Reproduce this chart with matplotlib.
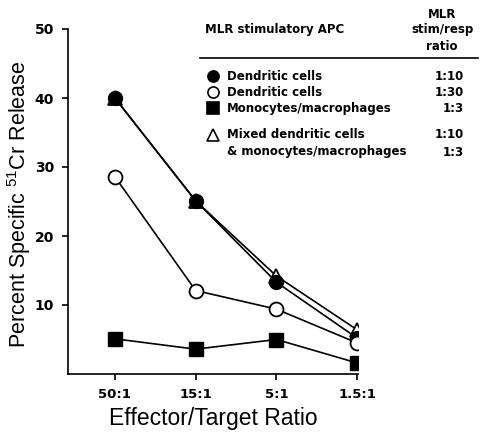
import matplotlib.pyplot as plt

plt.rcParams["mathtext.fontset"] = "custom"
plt.rcParams["mathtext.rm"] = "Liberation Sans"

# E:T ratios and percent specific 51Cr release
ratios = ["50:1", "15:1", "5:1", "1.5:1"]
dc_1_10 = [40.0, 25.1, 13.3, 5.2]
dc_1_30 = [28.6, 12.1, 9.4, 4.5]
mono_1_3 = [5.1, 3.6, 5.0, 1.6]
mixed = [40.0, 25.1, 14.2, 6.4]

legend_names = ["Dendritic cells", "Dendritic cells", "Monocytes/macrophages",
                "Mixed dendritic cells"]
legend_ratios = ["1:10", "1:30", "1:3", "1:10"]

W, H = 480, 436
fig = plt.figure(figsize=(W / 100, H / 100), dpi=100)
ax = fig.add_axes([68 / W, 1 - 374 / H, (358 - 68) / W, (374 - 29) / H])

x = list(range(len(ratios)))
ms = 10
lw = 1.2
ax.plot(x, mixed, color="black", lw=lw, marker="^", ms=ms, mfc="white", mec="black", mew=1.3, zorder=2)
ax.plot(x, dc_1_10, color="black", lw=lw, marker="o", ms=ms, mfc="black", mec="black", zorder=3)
ax.plot(x, dc_1_30, color="black", lw=lw, marker="o", ms=ms, mfc="white", mec="black", mew=1.3, zorder=3)
ax.plot(x, mono_1_3, color="black", lw=lw, marker="s", ms=ms, mfc="black", mec="black", zorder=3)

ax.set_xlim(-0.58, 3.01)
ax.set_ylim(0, 50)
ax.set_xticks(x)
ax.set_xticklabels(ratios, fontsize=9.5, fontweight="bold")
ax.set_yticks([10, 20, 30, 40, 50])
ax.set_yticklabels(["10", "20", "30", "40", "50"], fontsize=10, fontweight="bold")
ax.spines["top"].set_visible(False)
ax.spines["right"].set_visible(False)
ax.spines["left"].set_linewidth(1.2)
ax.spines["bottom"].set_linewidth(1.2)
ax.tick_params(direction="out", length=4, width=1.2, pad=6)


def px(xp, yp):
    return xp / W, 1 - yp / H


# axis labels placed in figure pixels so nothing is clipped
fig.text(*px(213, 418), "Effector/Target Ratio", fontsize=16.5, family="Liberation Sans",
         ha="center", va="center")
fig.text(*px(19, 204), "Percent Specific $^{51}$Cr Release", fontsize=15.5, family="Liberation Sans",
         ha="center", va="center", rotation=90)

# legend drawn as a small table
fig.text(*px(205, 30), "MLR stimulatory APC", fontsize=8.5, fontweight="bold", va="center")
fig.text(*px(442, 30), "MLR\nstim/resp\nratio", fontsize=8.5, fontweight="bold",
         va="center", ha="center", linespacing=1.3)
fig.add_artist(plt.Line2D([200 / W, 478 / W], [1 - 58 / H, 1 - 58 / H], color="black", lw=1.2))

rows_y = [76, 92, 108, 135]
markers = [("o", "black"), ("o", "white"), ("s", "black"), ("^", "white")]
for yp, (m, fc), name, r in zip(rows_y, markers, legend_names, legend_ratios):
    fig.add_artist(plt.Line2D([213 / W], [1 - yp / H], marker=m, ms=8, mfc=fc, mec="black", mew=1.2, ls="none"))
    fig.text(*px(227, yp), name, fontsize=8.5, fontweight="bold", va="center")
    fig.text(*px(464, yp), r, fontsize=8.5, fontweight="bold", va="center", ha="right")
fig.text(*px(227, 152), "& monocytes/macrophages", fontsize=8.5, fontweight="bold", va="center")
fig.text(*px(464, 152), "1:3", fontsize=8.5, fontweight="bold", va="center", ha="right")

plt.savefig("out.png", dpi=100)
